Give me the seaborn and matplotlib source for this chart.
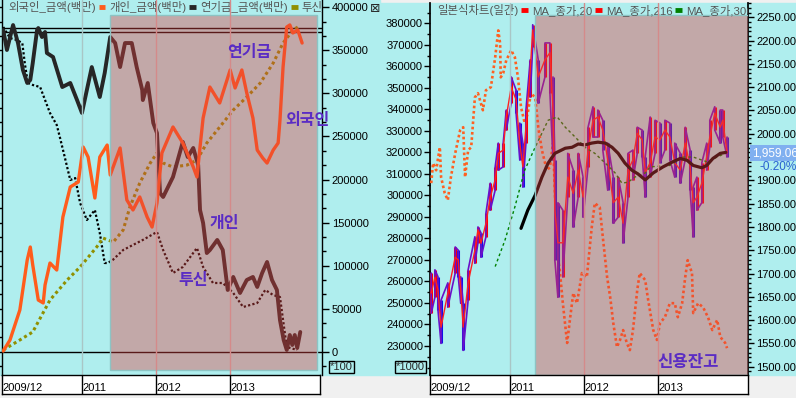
import matplotlib
matplotlib.use("Agg")
import matplotlib.pyplot as plt
import seaborn as sns
from matplotlib.lines import Line2D
from matplotlib.patches import Rectangle
from matplotlib.ticker import MultipleLocator, FixedLocator, StrMethodFormatter, FuncFormatter

# x values are months counted from 2009/12
# left panel: cumulative net buying (백만)
foreign = [(0.2, 800), (1.3, 13600), (2.9, 48400), (4.1, 106500), (4.6, 121600), (5.0, 100700),
           (5.9, 60000), (6.7, 56600), (7.0, 77500), (7.8, 103000), (8.9, 94900), (9.9, 156400),
           (11.1, 191300), (12.4, 197100), (13.2, 237700), (14.0, 226100), (15.1, 178500),
           (15.9, 226100), (17.1, 240000), (17.6, 205200), (19.2, 236600), (20.3, 176200),
           (21.3, 164600), (22.4, 179700), (23.6, 156400), (24.4, 144800), (25.2, 172700),
           (26.0, 230800), (27.8, 261000), (29.4, 242400), (31.1, 214500), (31.7, 202900),
           (32.2, 237700), (32.7, 271400), (33.8, 307400), (35.4, 288900), (37.1, 327200),
           (37.9, 306300), (39.0, 327200), (39.8, 300500), (40.8, 271400), (41.5, 234200),
           (42.4, 224900), (43.1, 219100), (44.1, 234200), (44.9, 242400), (45.2, 269100),
           (45.7, 330600), (46.3, 377100), (46.8, 379500), (47.3, 370200), (48.1, 373600),
           (48.8, 358500)]
individual = [(0.2, 373600), (0.8, 350400), (1.8, 379400), (2.6, 358500), (3.4, 327200),
              (4.1, 312100), (4.6, 315600), (5.0, 335300), (5.7, 373600), (5.9, 375900),
              (6.5, 365500), (7.0, 371300), (7.3, 346900), (8.3, 342300), (9.8, 307400),
              (11.1, 312100), (12.2, 292300), (13.0, 277300), (13.8, 304000), (14.6, 330600),
              (15.9, 295800), (16.7, 323700), (17.6, 365500), (18.4, 358500), (19.2, 330600),
              (20.0, 358500), (21.1, 358500), (21.9, 330600), (22.8, 304000), (22.9, 292300),
              (23.7, 312100), (24.6, 265600), (25.2, 253900), (25.7, 184200), (26.2, 179700),
              (27.8, 202900), (29.4, 243600), (30.2, 226100), (31.1, 236600), (31.9, 216800),
              (32.2, 164600), (32.7, 149500), (33.3, 114600), (33.8, 118100), (35.0, 129800),
              (35.9, 118100), (36.7, 71700), (37.6, 86800), (38.7, 68200), (39.8, 83300),
              (40.8, 86800), (41.5, 75200), (42.3, 91400), (43.1, 104200), (43.9, 83300),
              (44.7, 71700), (45.2, 36700), (45.8, 13600), (46.3, 2000), (46.8, 19400),
              (47.2, 7800), (47.6, 19400), (48.0, 4300), (48.5, 22900)]
pension = [(0.2, 2000), (2.9, 13600), (5.0, 22900), (7.8, 60000), (10.6, 83300), (12.7, 98400),
           (15.4, 121600), (16.4, 132000), (18.1, 127400), (19.7, 141300), (20.8, 168100),
           (22.4, 195900), (24.1, 219100), (25.2, 230800), (26.2, 219100), (27.8, 214500),
           (30.1, 216800), (31.7, 222600), (33.3, 242400), (35.4, 260900), (37.6, 280700),
           (39.8, 295800), (42.0, 312100), (44.1, 335300), (45.7, 358500), (47.3, 373600),
           (48.1, 377100)]
trust = [(0.2, 377100), (1.3, 364300), (2.4, 362000), (3.3, 358500), (3.7, 335300), (4.2, 312100),
         (5.0, 309800), (6.2, 307400), (7.0, 292300), (7.8, 277300), (8.9, 263300), (9.4, 249400),
         (10.2, 226100), (11.1, 199400), (11.9, 201700), (12.7, 172700), (13.8, 153000),
         (15.1, 164600), (15.9, 137900), (16.7, 103000), (17.2, 103000), (18.0, 106500),
         (19.7, 118100), (21.3, 124000), (22.9, 129800), (25.2, 139100), (26.2, 118100),
         (27.8, 91400), (29.4, 98400), (31.7, 120500), (32.7, 98400), (34.3, 79800),
         (35.9, 79800), (37.6, 68200), (39.2, 51900), (41.5, 56600), (42.8, 71700),
         (44.1, 65800), (45.2, 63500), (45.7, 36800), (46.3, 5500), (48.0, 2000)]
ref_levels = [375600, 371600, 0]
left_labels = ['외국인_금액(백만)', '개인_금액(백만)', '연기금_금액(백만)', '투신_금액(백만)']

# right panel: KOSPI daily (month, high, low, close), moving averages, credit balance
kospi = [(0.2, 1701, 1615, 1658), (0.8, 1708, 1649, 1692), (1.3, 1693, 1621, 1665),
         (1.8, 1643, 1550, 1585), (2.9, 1680, 1628, 1658), (4.1, 1757, 1701, 1735),
         (4.6, 1750, 1693, 1729), (5.0, 1693, 1636, 1665), (5.4, 1636, 1535, 1585),
         (6.2, 1708, 1643, 1680), (7.3, 1779, 1722, 1750), (7.8, 1800, 1766, 1794),
         (8.3, 1787, 1735, 1765), (9.1, 1830, 1779, 1808), (9.8, 1894, 1836, 1864),
         (10.6, 1929, 1879, 1901), (11.1, 1980, 1922, 1958), (11.9, 1980, 1929, 1965),
         (12.4, 2051, 2008, 2036), (13.2, 2122, 2066, 2100), (14.0, 2094, 2044, 2073),
         (14.6, 2023, 1944, 1980), (15.1, 1980, 1886, 1929), (15.6, 2051, 1980, 2014),
         (16.3, 2159, 2079, 2137), (16.7, 2234, 2187, 2223), (17.6, 2159, 2066, 2122),
         (18.7, 2195, 2122, 2159), (19.5, 2195, 2088, 2174), (20.0, 2122, 1944, 2051),
         (20.3, 1944, 1729, 1836), (20.8, 1852, 1649, 1766), (21.6, 1836, 1693, 1766),
         (22.4, 1958, 1864, 1907), (23.3, 1922, 1800, 1872), (24.1, 1958, 1864, 1922),
         (24.9, 1907, 1821, 1864), (25.7, 2014, 1929, 1965), (26.5, 2058, 1993, 2029),
         (27.3, 2051, 1993, 2036), (28.1, 2029, 1965, 2008), (28.9, 1980, 1879, 1944),
         (29.8, 1907, 1808, 1852), (30.6, 1907, 1821, 1864), (31.4, 1852, 1766, 1808),
         (32.2, 1958, 1864, 1922), (33.0, 1965, 1901, 1944), (33.7, 2014, 1958, 2001),
         (34.5, 2008, 1951, 1987), (35.0, 1951, 1864, 1916), (35.8, 2036, 1907, 1938),
         (36.6, 2029, 1958, 1993), (37.4, 2023, 1938, 1987), (38.2, 2029, 1965, 2008),
         (39.0, 2023, 1944, 1993), (39.8, 1980, 1907, 1938), (40.7, 1958, 1894, 1922),
         (41.5, 2014, 1944, 1980), (42.3, 1965, 1879, 1929), (42.8, 1886, 1779, 1852),
         (43.4, 1907, 1836, 1864), (44.2, 1938, 1852, 1894), (45.0, 1980, 1922, 1951),
         (45.5, 2029, 1972, 1993), (46.3, 2058, 2008, 2044), (47.2, 2051, 1980, 2014),
         (47.6, 2051, 1993, 2029), (48.3, 1993, 1951, 1959)]
ma216 = [(10.6, 1715), (12.2, 1772), (13.8, 1843), (15.4, 1922), (17.1, 1971), (19.2, 2029),
         (20.7, 2036), (22.0, 2014), (23.6, 1993), (25.2, 1971), (26.8, 1958), (28.5, 1937),
         (30.1, 1916), (31.2, 1894), (32.2, 1896), (33.3, 1907), (35.0, 1916), (35.8, 1929),
         (39.0, 1932), (41.1, 1950), (42.8, 1950), (45.0, 1940), (46.7, 1950), (48.0, 1958)]
ma306 = [(14.8, 1797), (15.9, 1836), (17.1, 1868), (18.2, 1907), (19.2, 1937), (20.3, 1958),
         (22.0, 1969), (23.1, 1971), (24.1, 1978), (25.2, 1976), (26.3, 1980), (27.3, 1982),
         (28.5, 1980), (29.6, 1971), (30.6, 1958), (31.7, 1937), (32.8, 1922), (33.8, 1914),
         (35.0, 1901), (36.3, 1916), (37.9, 1929), (39.5, 1940), (40.7, 1947), (41.8, 1943),
         (42.8, 1932), (44.2, 1927), (45.0, 1932), (46.0, 1947), (47.2, 1958), (48.1, 1960)]
credit = [(0.2, 305700), (0.5, 315000), (1.0, 311700), (1.6, 322400), (1.8, 308500), (2.4, 301000),
          (2.9, 297800), (3.4, 308500), (4.1, 319600), (4.9, 330300), (5.4, 331700), (5.7, 308500),
          (6.2, 321000), (6.7, 322400), (7.3, 345600), (7.8, 347500), (8.6, 339600), (9.1, 348900),
          (9.9, 350300), (10.6, 364200), (11.1, 376700), (11.4, 370700), (11.5, 354900),
          (11.9, 356800), (12.4, 362800), (13.2, 367500), (13.8, 364200), (14.3, 354900),
          (14.8, 341000), (15.4, 333600), (15.9, 338200), (16.4, 347500), (17.1, 345600),
          (17.6, 331700), (18.2, 321000), (19.0, 311700), (19.5, 313100), (20.0, 324300),
          (20.7, 273200), (21.1, 265300), (21.6, 249900), (22.3, 231400), (22.8, 243400),
          (23.3, 254600), (23.9, 249900), (24.7, 263900), (25.5, 262000), (26.3, 285200),
          (26.8, 296400), (27.6, 294500), (28.1, 280600), (28.8, 262000), (29.3, 252700),
          (29.8, 240700), (30.4, 229500), (30.9, 232800), (31.4, 237400), (32.0, 231400),
          (32.5, 228100), (33.0, 237400), (33.7, 256000), (34.1, 263900), (35.0, 260600),
          (35.4, 252700), (36.3, 237400), (36.9, 232800), (37.4, 240700), (38.2, 243400),
          (39.0, 249900), (39.8, 249900), (40.3, 243400), (41.0, 249900), (41.5, 262000),
          (41.9, 269900), (42.6, 263900), (42.8, 245300), (43.6, 249900), (44.4, 248000),
          (45.2, 243400), (45.9, 237400), (46.7, 242100), (47.2, 234200), (48.0, 231400),
          (48.3, 229000)]
right_labels = ['일본식차트(일간)', 'MA_종가,20', 'MA_종가,216', 'MA_종가,306']
last_close = '1,959.06'
last_change = '-0.20%'

year_ticks = [0, 13, 25, 37]
year_labels = ['2009/12', '2011', '2012', '2013']

W, H = 796, 398
CYAN = '#afeeee'
NOTE = '#5a2cc4'
SHADE = (0.88, 0.25, 0.25, 0.4)

sns.set_theme(style='white')
plt.rcParams['font.family'] = ['Liberation Sans', 'Noto Sans CJK KR', 'DejaVu Sans']
plt.rcParams['axes.unicode_minus'] = False

fig = plt.figure(figsize=(W / 100, H / 100), dpi=100, facecolor='#f0f0f0')


def box(x0, y0, x1, y1):
    return [x0 / W, 1 - y1 / H, (x1 - x0) / W, (y1 - y0) / H]


def line(ax, pairs, **kw):
    sns.lineplot(x=[p[0] for p in pairs], y=[p[1] for p in pairs], ax=ax,
                 estimator=None, sort=False, **kw)


def top_legend(ax, labels, colors, x_px, width_px):
    hs = [Line2D([], [], color=c, lw=3.5, solid_capstyle='butt') for c in colors]
    leg = ax.legend(hs, labels, loc='upper left', bbox_to_anchor=(x_px / width_px, 1.0), ncol=4,
                    frameon=False, markerfirst=False, handlelength=0.6, handletextpad=0.25,
                    columnspacing=0.35, borderaxespad=0, borderpad=0.1, fontsize=8.2,
                    labelcolor='#555555')
    for t in leg.get_texts():
        t.set_clip_on(True)
        t.set_clip_box(ax.bbox)
    for h in leg.legend_handles:
        h.set_clip_on(True)
        h.set_clip_box(ax.bbox)
    return leg


fig.add_artist(Rectangle((0, 1 - 375 / H), 380 / W, 375 / H, transform=fig.transFigure,
                         color=CYAN, zorder=-10))
fig.add_artist(Rectangle((380 / W, 1 - 375 / H), 416 / W, 372 / H, transform=fig.transFigure,
                         color=CYAN, zorder=-10))

# ---------------- left panel ----------------
ax = fig.add_axes(box(2, 0, 322, 375))
ax.set_facecolor('none')
ax.set_xlim(0, 320 / 6.15)
ax.set_ylim(-27060, 408480)

for v in ref_levels:
    ax.axhline(v, color='black', lw=1, zorder=2)
line(ax, trust, color='black', lw=1.6, linestyle=(0, (1, 1)), zorder=3)
line(ax, pension, color='#909000', lw=2.2, linestyle=(0, (1, 1)), zorder=3)
line(ax, individual, color='#262626', lw=2.8, zorder=3)
line(ax, foreign, color='#ff5c1c', lw=2.4, zorder=3)

ax.axvspan(17.5, 51.2, ymin=5 / 375, ymax=360 / 375, facecolor=SHADE, edgecolor='#8cc4c4',
           lw=1, zorder=5)
for m, c in zip(year_ticks[1:], ['#a9c6c6', '#d48a8a', '#d48a8a']):
    ax.axvline(m, color=c, lw=1, zorder=6)

for txt, mx, vy in [('연기금', 40.2, 347500), ('외국인', 49.6, 269100),
                    ('개인', 36.1, 148900), ('투신', 31.0, 82700)]:
    ax.text(mx, vy, txt, color=NOTE, fontsize=11.5, fontweight='bold', ha='center',
            va='center', zorder=8)

ax.set_xticks([])
ax.yaxis.set_major_locator(MultipleLocator(50000))
ax.yaxis.set_minor_locator(MultipleLocator(50000 / 3))
ax.yaxis.set_major_formatter(StrMethodFormatter('{x:.0f}'))
ax.tick_params(axis='y', which='both', left=True, right=True, labelleft=False, labelright=True,
               direction='out', color='black', labelcolor='black', labelsize=8, pad=2, width=1)
ax.tick_params(axis='y', which='major', length=5)
ax.tick_params(axis='y', which='minor', length=3)
for s in ['top', 'bottom']:
    ax.spines[s].set_visible(False)
for s in ['left', 'right']:
    ax.spines[s].set_color('black')
    ax.spines[s].set_linewidth(1)
ax.set_xlabel('')
ax.set_ylabel('')
top_legend(ax, left_labels, ['#ff5c1c', '#262626', '#909000', 'black'], 5, 320)

# ---------------- right panel ----------------
axr = fig.add_axes(box(430, 3, 748, 375))
axr.set_facecolor('none')
axr.set_xlim(0, 318 / 6.15)
axr.set_ylim(216520, 389440)
line(axr, credit, color='#ff6020', lw=1.9, linestyle=(0, (1, 1)), zorder=3)

axp = axr.twinx()
axp.set_ylim(1482.2, 2280.7)
km = [k[0] for k in kospi]
khi = [k[1] for k in kospi]
klo = [k[2] for k in kospi]
kcl = [k[3] for k in kospi]
bar_cols = ['#ff0000' if i == 0 or kcl[i] >= kcl[i - 1] else '#1010e8' for i in range(len(kcl))]
axp.vlines(km, klo, khi, colors=bar_cols, lw=2.2, zorder=3)
zig_x, zig_y = [], []
for i, (m, hi, lo, cl) in enumerate(kospi):
    zig_x += [m, m]
    zig_y += [hi, lo] if i % 2 == 0 else [lo, hi]
sns.lineplot(x=zig_x, y=zig_y, ax=axp, estimator=None, sort=False, color='#6a10c8', lw=1.2,
             zorder=3)
sns.lineplot(x=km, y=kcl, ax=axp, estimator=None, sort=False, color='#ff2020', lw=1.0, zorder=3)
line(axp, ma216, color='#008000', lw=1.0, linestyle=(0, (2, 2)), zorder=4)
line(axp, ma306, color='black', lw=2.3, zorder=4)

axp.axvspan(17.07, 51.71, ymin=0, ymax=360 / 372, facecolor=SHADE, edgecolor='#8cc4c4', lw=1,
            zorder=5)
for m, c in zip(year_ticks[1:], ['#a9c6c6', '#d48a8a', '#d48a8a']):
    axp.axvline(m, color=c, lw=1, zorder=6)
axp.text(41.9, 1510, '신용잔고', color=NOTE, fontsize=12, fontweight='bold', ha='center',
         va='center', zorder=8)

axr.set_xticks([])
axr.yaxis.set_major_locator(FixedLocator(range(230000, 390000, 10000)))
axr.yaxis.set_minor_locator(MultipleLocator(5000))
axr.yaxis.set_major_formatter(StrMethodFormatter('{x:.0f}'))
axr.tick_params(axis='y', which='both', left=True, right=False, labelleft=True,
                labelright=False, direction='out', color='black', labelcolor='black',
                labelsize=8, pad=1, width=1)
axr.tick_params(axis='y', which='major', length=4)
axr.tick_params(axis='y', which='minor', length=2)
axp.yaxis.set_major_locator(MultipleLocator(50))
axp.yaxis.set_minor_locator(MultipleLocator(10))
# the 1950 label sits under the last-price box
axp.yaxis.set_major_formatter(FuncFormatter(lambda v, p: '' if abs(v - 1950) < 1 else f'{v:.2f}'))
axp.tick_params(axis='y', which='both', left=False, right=True, labelleft=False,
                labelright=True, direction='out', color='black', labelcolor='black',
                labelsize=8, pad=2, width=1)
axp.tick_params(axis='y', which='major', length=4)
axp.tick_params(axis='y', which='minor', length=2)
for a in (axr, axp):
    for s in ['top', 'bottom', 'left', 'right']:
        a.spines[s].set_visible(False)
    a.set_xlabel('')
    a.set_ylabel('')
axr.spines['left'].set_visible(True)
axr.spines['left'].set_color('black')
axp.spines['right'].set_visible(True)
axp.spines['right'].set_color('black')
top_legend(axp, right_labels, ['#ff0000', '#ff0000', '#008000', 'black'], 6, 318)

# ---------------- date strips ----------------
for x0, x1 in [(2, 320), (430, 748)]:
    axd = fig.add_axes(box(x0, 375, x1, 394))
    axd.set_facecolor('white')
    axd.set_xlim(0, (x1 - x0) / 6.15)
    axd.set_ylim(0, 1)
    axd.set_xticks([])
    axd.set_yticks([])
    for s in axd.spines.values():
        s.set_visible(True)
        s.set_color('black')
        s.set_linewidth(1)
    for m, lab in zip(year_ticks, year_labels):
        if m > 0:
            axd.axvline(m, color='black', lw=1)
        axd.text(m + 0.15, 0.14, lab, fontsize=8, color='black', ha='left', va='baseline')

# ---------------- small decorations ----------------
fig.text(375 / W, 1 - 8 / H, '⊠', ha='center', va='center', fontsize=9, family='DejaVu Sans')
fig.text(330 / W, 1 - 367 / H, '*100', ha='left', va='center', fontsize=8,
         bbox=dict(boxstyle='square,pad=0.1', fc='none', ec='black', lw=1))
fig.text(425 / W, 1 - 367 / H, '*1000', ha='right', va='center', fontsize=8,
         bbox=dict(boxstyle='square,pad=0.1', fc='none', ec='black', lw=1))
fig.text(752 / W, 1 - 153 / H, last_close, ha='left', va='center', fontsize=8.5, color='white',
         bbox=dict(boxstyle='square,pad=0.15', fc='#80b0f0', ec='none'))
fig.text(760 / W, 1 - 167 / H, last_change, ha='left', va='center', fontsize=8.5,
         color='#2860d0')

fig.savefig('out.png', dpi=100, facecolor=fig.get_facecolor())
